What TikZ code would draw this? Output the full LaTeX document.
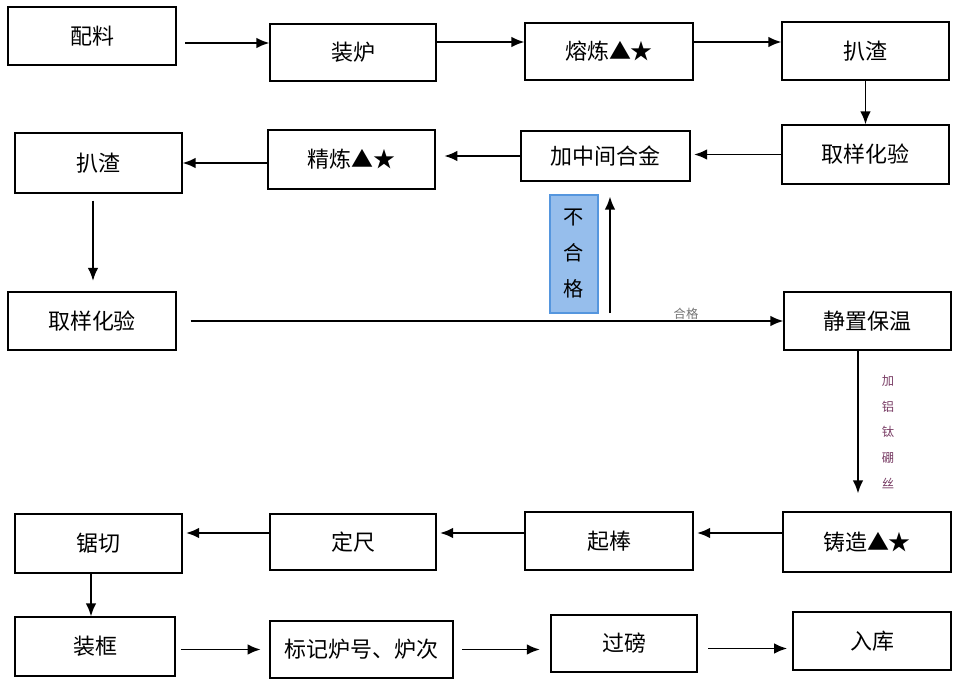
\documentclass[tikz,border=0pt]{standalone}
\usepackage{fontspec}
\newfontfamily\cjk{Noto Sans CJK SC}
\usetikzlibrary{arrows.meta}

\definecolor{failblue}{RGB}{150,190,236}
\definecolor{failedge}{RGB}{85,150,222}
\definecolor{notecol}{RGB}{120,60,100}

\begin{document}
\begin{tikzpicture}[
    x=0.02cm, y=-0.02cm,
    box/.style={rectangle, draw, line width=0.6pt, inner sep=0pt, minimum width=3.36cm, minimum height=1.16cm, font=\cjk\fontsize{12.5}{15}\selectfont},
    arrow/.style={-{Latex[length=2.6mm,width=2.1mm]}, line width=1.1pt},
    failbox/.style={rectangle, draw=failedge, line width=1.4pt, fill=failblue, minimum width=0.96cm, minimum height=2.36cm, align=center, font=\cjk\fontsize{11.5}{20.5}\selectfont},
    note/.style={font=\cjk\fontsize{7}{8}\selectfont, inner sep=1pt}
]
\useasboundingbox (0,0) rectangle (954,679);

% Row 1
\node[box] (peiliao) at (92,36) {配料};
\node[box, minimum width=3.32cm, minimum height=1.14cm] (zhuanglu) at (353,52.5) {装炉};
\node[box, minimum height=1.14cm] (ronglian) at (609,51.5) {熔炼▲★};
\node[box, minimum width=3.34cm] (pazha) at (865.5,51) {扒渣};

% Row 2
\node[box, minimum width=3.34cm, minimum height=1.18cm] (quyang) at (865.5,154.5) {取样化验};
\node[box, minimum width=3.38cm, minimum height=1.0cm] (jiazhong) at (605.5,156) {加中间合金};
\node[box, minimum width=3.34cm, minimum height=1.18cm] (jinglian) at (351.5,159.5) {精炼▲★};
\node[box, minimum width=3.34cm, minimum height=1.2cm] (pazhaB) at (98.5,163) {扒渣};

% Row 3
\node[box] (quyangB) at (92,321) {取样化验};
\node[box, minimum width=3.34cm] (jingzhi) at (867.5,321) {静置保温};
\node[failbox] (buhege) at (574,254) {不\\合\\格};
\coordinate (fail) at (610,313);

% Row 4
\node[box, minimum height=1.2cm] (zhuzao) at (867,542) {铸造▲★};
\node[box] (qibang) at (609,541) {起棒};
\node[box, minimum width=3.32cm, minimum height=1.12cm] (dingchi) at (353,542) {定尺};
\node[box, minimum width=3.34cm, minimum height=1.18cm] (juqie) at (98.5,543.5) {锯切};

% Row 5
\node[box, minimum width=3.2cm, minimum height=1.18cm] (zhuangkuang) at (95,646.5) {装框};
\node[box, minimum width=3.66cm, minimum height=1.14cm] (biaoji) at (361.5,649.5) {标记炉号、炉次};
\node[box, minimum width=2.92cm, minimum height=1.14cm] (guobang) at (624,643.5) {过磅};
\node[box, minimum width=3.16cm] (ruku) at (872,641) {入库};

% Connections
\draw[arrow, shorten <=5pt] ([yshift=-7*0.02cm]peiliao.east) -- ([yshift=-7*0.02cm]peiliao.east -| zhuanglu.west);
\draw[arrow] ([yshift=10.5*0.02cm]zhuanglu.east) -- ([yshift=10.5*0.02cm]zhuanglu.east -| ronglian.west);
\draw[arrow] ([yshift=9.5*0.02cm]ronglian.east) -- ([yshift=9.5*0.02cm]ronglian.east -| pazha.west);
\draw[arrow] (pazha.south) -- (pazha.south |- quyang.north);
\draw[arrow, shorten >=2pt] (quyang.west) -- (quyang.west -| jiazhong.east);
\draw[arrow, shorten >=5pt] (jiazhong.west) -- (jiazhong.west -| jinglian.east);
\draw[arrow] (jinglian.west |- pazhaB.east) -- (pazhaB.east);
\draw[arrow, shorten <=4pt, shorten >=6pt] ([xshift=-5.5*0.02cm]pazhaB.south) -- ([xshift=-5.5*0.02cm]pazhaB.south |- quyangB.north);
\draw[arrow, shorten <=8pt] (quyangB.east) -- (jingzhi.west);
\draw[arrow, shorten >=15*0.02cm] (fail) -- (fail |- jiazhong.south);
\draw[arrow, shorten >=18*0.02cm] ([xshift=-9.5*0.02cm]jingzhi.south) -- ([xshift=-9.5*0.02cm]jingzhi.south |- zhuzao.north);
\draw[arrow, shorten >=2pt] ([yshift=9*0.02cm]zhuzao.west) -- ([yshift=9*0.02cm]zhuzao.west -| qibang.east);
\draw[arrow, shorten >=2pt] ([yshift=8*0.02cm]qibang.west) -- ([yshift=8*0.02cm]qibang.west -| dingchi.east);
\draw[arrow, shorten >=2pt] ([yshift=9*0.02cm]dingchi.west) -- ([yshift=9*0.02cm]dingchi.west -| juqie.east);
\draw[arrow] ([xshift=-7.5*0.02cm]juqie.south) -- ([xshift=-7.5*0.02cm]juqie.south |- zhuangkuang.north);
\draw[arrow, shorten <=3pt, shorten >=5pt] (zhuangkuang.east |- biaoji.west) -- (biaoji.west);
\draw[arrow, shorten <=5pt, shorten >=6pt] (biaoji.east) -- (biaoji.east -| guobang.west);
\draw[arrow, shorten <=6pt, shorten >=3pt] ([yshift=-5*0.02cm]guobang.east) -- ([yshift=-5*0.02cm]guobang.east -| ruku.west);

% Labels
\node[note, text=black!55] (hege) at (686,314) {合格};
\node[note, text=notecol, align=center, font=\cjk\fontsize{7}{14.7}\selectfont] (jialv) at (888,432) {加\\铝\\钛\\硼\\丝};

\end{tikzpicture}
\end{document}
